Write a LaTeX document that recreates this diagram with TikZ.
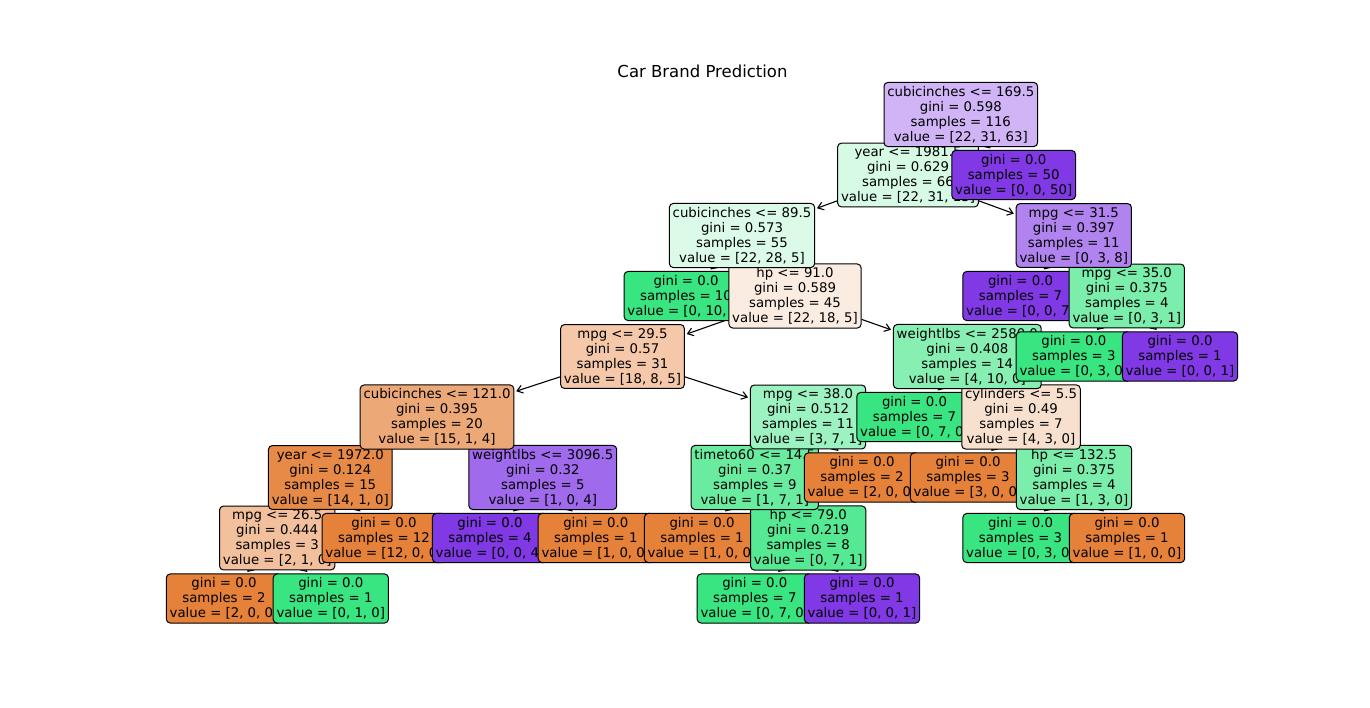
\documentclass[tikz,border=0pt]{standalone}
\usepackage{fontspec}
\setmainfont{DejaVu Sans}
\usetikzlibrary{arrows.meta}
\pgfdeclarelayer{bg}
\pgfdeclarelayer{a8}\pgfdeclarelayer{b8}
\pgfdeclarelayer{a7}\pgfdeclarelayer{b7}
\pgfdeclarelayer{a6}\pgfdeclarelayer{b6}
\pgfdeclarelayer{a5}\pgfdeclarelayer{b5}
\pgfdeclarelayer{a4}\pgfdeclarelayer{b4}
\pgfdeclarelayer{a3}\pgfdeclarelayer{b3}
\pgfdeclarelayer{a2}\pgfdeclarelayer{b2}
\pgfdeclarelayer{a1}\pgfdeclarelayer{b1}
\pgfsetlayers{bg,a8,b8,a7,b7,a6,b6,a5,b5,a4,b4,a3,b3,a2,b2,a1,b1,main}
\definecolor{cOr}{RGB}{229,129,57}
\definecolor{cGr}{RGB}{57,229,129}
\definecolor{cPu}{RGB}{129,57,229}
\definecolor{cRoot}{RGB}{208,180,245}
\definecolor{cYear}{RGB}{215,250,229}
\definecolor{cCubA}{RGB}{219,250,232}
\definecolor{cMpgA}{RGB}{176,131,239}
\definecolor{cHpA}{RGB}{251,236,226}
\definecolor{cMpgB}{RGB}{123,238,171}
\definecolor{cMpgC}{RGB}{244,200,169}
\definecolor{cWtA}{RGB}{136,239,179}
\definecolor{cCubB}{RGB}{237,168,119}
\definecolor{cMpgD}{RGB}{156,242,192}
\definecolor{cCyl}{RGB}{248,224,206}
\definecolor{cYearB}{RGB}{231,138,71}
\definecolor{cWtB}{RGB}{160,106,236}
\definecolor{cTime}{RGB}{106,236,160}
\definecolor{cMpgE}{RGB}{242,192,156}
\definecolor{cHpB}{RGB}{85,233,147}
\tikzset{
  tn/.style={draw=black, line width=1pt, rounded corners=3.8pt, inner xsep=3.3pt, inner ysep=3.6pt,
    align=center, font=\fontsize{13.3}{15}\selectfont},
  edge/.style={draw=black, line width=1.1pt, -{Straight Barb[length=5.5pt,width=8pt]}, shorten >=2pt}
}
\begin{document}
\begin{tikzpicture}[x=1pt,y=-1pt]
\begin{pgfonlayer}{bg}
\fill[white] (0,0) rectangle (1370,707);
\end{pgfonlayer}
\useasboundingbox (0,0) rectangle (1370,707);
\node[font=\fontsize{16.5}{20}\selectfont] (title) at (702.5,71) {Car Brand Prediction};
% depth 0
\node[tn, fill=cRoot] (r) at (960.8,114.5) {cubicinches <= 169.5\\gini = 0.598\\samples = 116\\value = [22, 31, 63]};
% depth 1
\begin{pgfonlayer}{b1}
\node[tn, fill=cYear] (a) at (908,175) {year <= 1981.5\\gini = 0.629\\samples = 66\\value = [22, 31, 13]};
\node[tn, fill=cPu] (b) at (1013.7,175) {gini = 0.0\\samples = 50\\value = [0, 0, 50]};
\end{pgfonlayer}
\begin{pgfonlayer}{a1}
\draw[edge] (r) -- (a);
\draw[edge] (r) -- (b);
\end{pgfonlayer}
% depth 2
\begin{pgfonlayer}{b2}
\node[tn, fill=cCubA] (c) at (742,235.5) {cubicinches <= 89.5\\gini = 0.573\\samples = 55\\value = [22, 28, 5]};
\node[tn, fill=cMpgA] (d) at (1073.8,235.5) {mpg <= 31.5\\gini = 0.397\\samples = 11\\value = [0, 3, 8]};
\end{pgfonlayer}
\begin{pgfonlayer}{a2}
\draw[edge] (a) -- (c);
\draw[edge] (a) -- (d);
\end{pgfonlayer}
% depth 3
\begin{pgfonlayer}{b3}
\node[tn, fill=cGr] (e) at (686,296) {gini = 0.0\\samples = 10\\value = [0, 10, 0]};
\node[tn, fill=cHpA] (f) at (795,296) {hp <= 91.0\\gini = 0.589\\samples = 45\\value = [22, 18, 5]};
\node[tn, fill=cPu] (g) at (1020.5,296) {gini = 0.0\\samples = 7\\value = [0, 0, 7]};
\node[tn, fill=cMpgB] (h) at (1126.8,296) {mpg <= 35.0\\gini = 0.375\\samples = 4\\value = [0, 3, 1]};
\end{pgfonlayer}
\begin{pgfonlayer}{a3}
\draw[edge] (c) -- (e);
\draw[edge] (c) -- (f);
\draw[edge] (d) -- (g);
\draw[edge] (d) -- (h);
\end{pgfonlayer}
% depth 4
\begin{pgfonlayer}{b4}
\node[tn, fill=cMpgC] (i) at (622.5,356.5) {mpg <= 29.5\\gini = 0.57\\samples = 31\\value = [18, 8, 5]};
\node[tn, fill=cWtA] (j) at (967.3,356.5) {weightlbs <= 2580.0\\gini = 0.408\\samples = 14\\value = [4, 10, 0]};
\node[tn, fill=cGr] (k) at (1073.8,356.5) {gini = 0.0\\samples = 3\\value = [0, 3, 0]};
\node[tn, fill=cPu] (l) at (1180,356.5) {gini = 0.0\\samples = 1\\value = [0, 0, 1]};
\end{pgfonlayer}
\begin{pgfonlayer}{a4}
\draw[edge] (f) -- (i);
\draw[edge] (f) -- (j);
\draw[edge] (h) -- (k);
\draw[edge] (h) -- (l);
\end{pgfonlayer}
% depth 5
\begin{pgfonlayer}{b5}
\node[tn, fill=cCubB] (m) at (437,417) {cubicinches <= 121.0\\gini = 0.395\\samples = 20\\value = [15, 1, 4]};
\node[tn, fill=cMpgD] (n) at (808,417) {mpg <= 38.0\\gini = 0.512\\samples = 11\\value = [3, 7, 1]};
\node[tn, fill=cGr] (o) at (914.5,417) {gini = 0.0\\samples = 7\\value = [0, 7, 0]};
\node[tn, fill=cCyl] (p) at (1021,417) {cylinders <= 5.5\\gini = 0.49\\samples = 7\\value = [4, 3, 0]};
\end{pgfonlayer}
\begin{pgfonlayer}{a5}
\draw[edge] (i) -- (m);
\draw[edge] (i) -- (n);
\draw[edge] (j) -- (o);
\draw[edge] (j) -- (p);
\end{pgfonlayer}
% depth 6
\begin{pgfonlayer}{b6}
\node[tn, fill=cYearB] (q) at (330.3,477.5) {year <= 1972.0\\gini = 0.124\\samples = 15\\value = [14, 1, 0]};
\node[tn, fill=cWtB] (s) at (542.8,477.5) {weightlbs <= 3096.5\\gini = 0.32\\samples = 5\\value = [1, 0, 4]};
\node[tn, fill=cTime] (t) at (754.8,477.5) {timeto60 <= 14.5\\gini = 0.37\\samples = 9\\value = [1, 7, 1]};
\node[tn, fill=cOr] (u) at (862,477.5) {gini = 0.0\\samples = 2\\value = [2, 0, 0]};
\node[tn, fill=cOr] (v) at (968,477.5) {gini = 0.0\\samples = 3\\value = [3, 0, 0]};
\node[tn, fill=cMpgB] (w) at (1074,477.5) {hp <= 132.5\\gini = 0.375\\samples = 4\\value = [1, 3, 0]};
\end{pgfonlayer}
\begin{pgfonlayer}{a6}
\draw[edge] (m) -- (q);
\draw[edge] (m) -- (s);
\draw[edge] (n) -- (t);
\draw[edge] (n) -- (u);
\draw[edge] (p) -- (v);
\draw[edge] (p) -- (w);
\end{pgfonlayer}
% depth 7
\begin{pgfonlayer}{b7}
\node[tn, fill=cMpgE] (x1) at (277.2,538) {mpg <= 26.5\\gini = 0.444\\samples = 3\\value = [2, 1, 0]};
\node[tn, fill=cOr] (x2) at (384,538) {gini = 0.0\\samples = 12\\value = [12, 0, 0]};
\node[tn, fill=cPu] (x3) at (490,538) {gini = 0.0\\samples = 4\\value = [0, 0, 4]};
\node[tn, fill=cOr] (x4) at (595.8,538) {gini = 0.0\\samples = 1\\value = [1, 0, 0]};
\node[tn, fill=cOr] (x5) at (702,538) {gini = 0.0\\samples = 1\\value = [1, 0, 0]};
\node[tn, fill=cHpB] (x6) at (808.2,538) {hp <= 79.0\\gini = 0.219\\samples = 8\\value = [0, 7, 1]};
\node[tn, fill=cGr] (x7) at (1020.5,538) {gini = 0.0\\samples = 3\\value = [0, 3, 0]};
\node[tn, fill=cOr] (x8) at (1127,538) {gini = 0.0\\samples = 1\\value = [1, 0, 0]};
\end{pgfonlayer}
\begin{pgfonlayer}{a7}
\draw[edge] (q) -- (x1);
\draw[edge] (q) -- (x2);
\draw[edge] (s) -- (x3);
\draw[edge] (s) -- (x4);
\draw[edge] (t) -- (x5);
\draw[edge] (t) -- (x6);
\draw[edge] (w) -- (x7);
\draw[edge] (w) -- (x8);
\end{pgfonlayer}
% depth 8
\begin{pgfonlayer}{b8}
\node[tn, fill=cOr] (y1) at (224,598.5) {gini = 0.0\\samples = 2\\value = [2, 0, 0]};
\node[tn, fill=cGr] (y2) at (330.8,598.5) {gini = 0.0\\samples = 1\\value = [0, 1, 0]};
\node[tn, fill=cGr] (y3) at (754.8,598.5) {gini = 0.0\\samples = 7\\value = [0, 7, 0]};
\node[tn, fill=cPu] (y4) at (862,598.5) {gini = 0.0\\samples = 1\\value = [0, 0, 1]};
\end{pgfonlayer}
\begin{pgfonlayer}{a8}
\draw[edge] (x1) -- (y1);
\draw[edge] (x1) -- (y2);
\draw[edge] (x6) -- (y3);
\draw[edge] (x6) -- (y4);
\end{pgfonlayer}
\end{tikzpicture}
\end{document}
